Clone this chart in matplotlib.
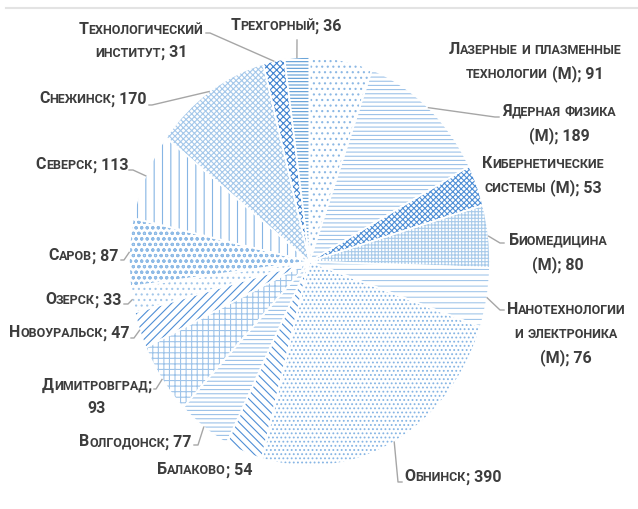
import matplotlib
matplotlib.use("Agg")
import matplotlib.pyplot as plt
from matplotlib.lines import Line2D
from matplotlib.offsetbox import TextArea, HPacker, VPacker, AnnotationBbox
import numpy as np

# slices, clockwise from 12 o'clock
names = ["Лазерные и плазменные\nтехнологии (М)", "Ядерная физика\n(М)",
         "Кибернетические\nсистемы (М)", "Биомедицина\n(М)",
         "Нанотехнологии\nи электроника\n(М)", "Обнинск", "Балаково",
         "Волгодонск", "Димитровград", "Новоуральск", "Озерск", "Саров",
         "Северск", "Снежинск", "Технологический\nинститут", "Трехгорный"]
values = [91, 189, 53, 80, 76, 390, 54, 77, 93, 47, 33, 87, 113, 170, 31, 36]

W, H = 638, 509
TXT = "#3d3d3d"
LEAD = "#a6a6a6"
FONT = ["Roboto", "DejaVu Sans"]
plt.rcParams["hatch.linewidth"] = 0.8

hatches = ["...", "----", "xxxxxx", "+++++", "---", "....", "\\\\\\\\", "----",
           "+++", "////", "...", "ooo", "||", "xxxxxx", "xxxxx", "-----"]
colors = ["#8cb8e4", "#9cc2e8", "#4f8fd6", "#a9cbea", "#a3c7ea", "#86b5e4",
          "#4f8fd6", "#9cc2e8", "#9fc4e9", "#4f8fd6", "#a3c7ea", "#8fbbe6",
          "#86b5e4", "#a5c8ea", "#3f82d0", "#5b9bd5"]

# label block centres (px) and leader-line points (px, from pie edge outward)
label_pos = [(535, 62), (559, 124), (543, 176), (558, 253), (566, 334),
             (453, 477), (205, 470), (135, 442), (97, 397), (69, 333),
             (83, 300), (83, 256), (82, 165), (93, 99), (141, 41), (286, 26)]
leaders = [None, [(495, 117), (499, 117)], None, [(500, 243), (504, 243)],
           [(500, 310), (504, 310)], [(398, 482), (402, 482)], None,
           [(198, 445), (194, 445)], [(156, 389), (154, 389)],
           [(134, 338), (131, 338)], [(128, 304), (124, 304)],
           [(124, 260), (121, 260)], [(133, 170), (129, 170)],
           [(152, 105), (149, 105)], [(210, 33), (206, 33)], [(297, 40)]]

fig = plt.figure(figsize=(W / 100, H / 100), dpi=100)
ax = fig.add_axes([129 / W, (H - 466) / H, 361 / W, 409 / H])

wedges, _ = ax.pie(values, startangle=90, counterclock=False, radius=1,
                   wedgeprops=dict(linewidth=0, facecolor="white"))
for w, h, c in zip(wedges, hatches, colors):
    w.set_hatch(h)
    w.set_edgecolor(c)
    w.set_linewidth(0)
ax.pie(values, startangle=90, counterclock=False, radius=1,
       wedgeprops=dict(linewidth=1.2, facecolor="none", edgecolor="white"))
ax.set_aspect("auto")
ax.set_xlim(-1, 1)
ax.set_ylim(-1, 1)
ax.axis("off")


def fig_frac(x, y):
    return x / W, 1 - y / H


def smallcaps(line, big=11.5, small=9):
    # lower-case letters become smaller capitals
    runs = []
    cur, cur_small = "", None
    for ch in line:
        sm = ch.islower()
        if cur and sm != cur_small:
            runs.append((cur, cur_small))
            cur = ""
        cur += ch.upper()
        cur_small = sm
    if cur:
        runs.append((cur, cur_small))
    props = lambda s: dict(size=s, weight="bold", color=TXT, family=FONT)
    boxes = [TextArea(t, textprops=props(small if sm else big)) for t, sm in runs]
    return HPacker(children=boxes, align="baseline", pad=0, sep=0)


to_fig = ax.transData + fig.transFigure.inverted()
total = sum(values)
start = 0
for name, v, pos, lead in zip(names, values, label_pos, leaders):
    mid = np.deg2rad((start + v / 2) / total * 360)
    start += v
    sep = ";\n" if name == "Димитровград" else "; "
    text = name + sep + str(v)
    lines = [smallcaps(l) for l in text.split("\n")]
    box = VPacker(children=lines, align="center", pad=0, sep=6)
    ab = AnnotationBbox(box, fig_frac(*pos), xycoords="figure fraction",
                        frameon=False, box_alignment=(0.5, 0.5), pad=0)
    fig.add_artist(ab)
    if lead:
        p0 = to_fig.transform((np.sin(mid), np.cos(mid)))
        pts = [p0] + [fig_frac(*p) for p in lead]
        xs, ys = zip(*pts)
        fig.add_artist(Line2D(xs, ys, color=LEAD, lw=1, transform=fig.transFigure))

fig.add_artist(Line2D([6 / W, 1], [1 - 8 / H] * 2, color="#e3e3e3", lw=1.5,
                      transform=fig.transFigure))

fig.savefig("out.png", dpi=100, facecolor="white")
